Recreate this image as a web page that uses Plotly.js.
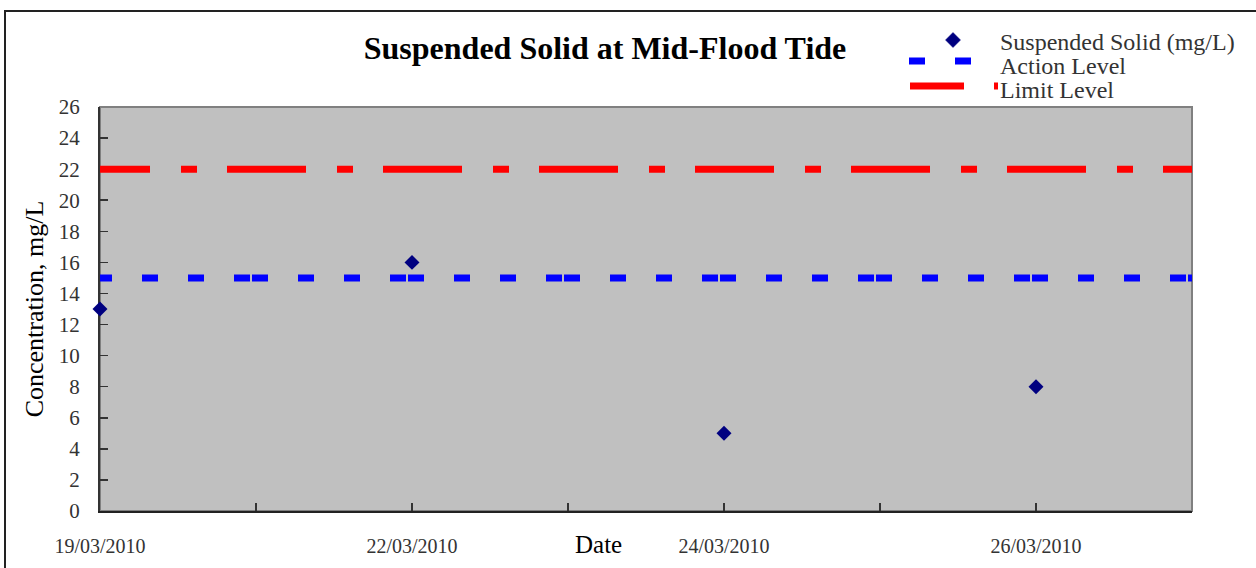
<!DOCTYPE html>
<html>
<head>
<meta charset="utf-8">
<script src="https://cdn.plot.ly/plotly-3.0.1.min.js"></script>
<style>
html,body{margin:0;padding:0;background:#fff;}
#chart{width:1256px;height:568px;}
</style>
</head>
<body>
<div id="chart"></div>
<script>
// ---- data ----
const tickLabels = ["19/03/2010", "22/03/2010", "24/03/2010", "26/03/2010"];
const ssValues = [13, 16, 5, 8];
const actionLevel = 15;
const limitLevel = 22;
const seriesNames = ["Suspended Solid (mg/L)", "Action Level", "Limit Level"];
const chartTitle = "Suspended Solid at Mid-Flood Tide";
const xTitle = "Date";
const yTitle = "Concentration, mg/L";

// ---- axis slots (one labelled slot every second slot, as in the original) ----
const nSlots = tickLabels.length * 2;            // 8 slots, 0..7
const slotVals = Array.from({length: nSlots}, (_, i) => i);
const slotText = slotVals.map(i => (i % 2 === 0 ? tickLabels[i / 2] : ""));
const sampleX = tickLabels.map((_, i) => i * 2);
const xMax = nSlots - 1;

// ---- layout geometry (pixels) ----
const W = 1256, H = 568;
const M = {l: 100, r: 64, t: 107, b: 57};
const pw = W - M.l - M.r, ph = H - M.t - M.b;
const px2x = p => (p - M.l) / pw;
const py2y = p => (H - M.b - p) / ph;

const FONT = "Liberation Serif, Times New Roman, serif";

const traces = [
  {
    x: [0, xMax], y: [limitLevel, limitLevel], mode: "lines", name: seriesNames[2],
    line: {color: "#FF0000", width: 7, dash: "50px,31px,16px,30px,29px,0px"},
    showlegend: false, hoverinfo: "skip"
  },
  {
    x: [0, xMax], y: [actionLevel, actionLevel], mode: "lines", name: seriesNames[1],
    line: {color: "#0000FF", width: 7, dash: "12px,30px,16px,30px,16px,30px,16px,2px,4px,0px"},
    showlegend: false, hoverinfo: "skip"
  },
  {
    x: sampleX, y: ssValues, mode: "markers", name: seriesNames[0],
    marker: {symbol: "diamond", size: 11.5, color: "#000080"},
    cliponaxis: false, showlegend: false
  }
];

// custom legend (symbols + labels), matching the original's compact rows
const legRows = [42, 66, 90];
const legTextX = 998;
const annotations = seriesNames.map((n, i) => ({
  xref: "paper", yref: "paper", x: px2x(legTextX), y: py2y(legRows[i]),
  xanchor: "left", yanchor: "middle", showarrow: false, text: n,
  font: {family: FONT, size: 24, color: "#333"}
}));
annotations.push({
  xref: "paper", yref: "paper", x: px2x(598), y: py2y(544),
  xanchor: "center", yanchor: "middle", showarrow: false, text: xTitle,
  font: {family: FONT, size: 25, color: "#000"}
});

const dcx = 953, dcy = 40, dr = 7.5;
const diamondPath = "M " + px2x(dcx - dr) + "," + py2y(dcy) +
  " L " + px2x(dcx) + "," + py2y(dcy - dr) +
  " L " + px2x(dcx + dr) + "," + py2y(dcy) +
  " L " + px2x(dcx) + "," + py2y(dcy + dr) + " Z";

const shapes = [
  // plot area frame (grey), axis lines drawn over it on left/bottom
  {type: "rect", xref: "paper", yref: "paper", x0: 0, x1: 1, y0: 0, y1: 1,
   line: {color: "#808080", width: 2}, layer: "below"},
  // outer chart frame
  {type: "rect", xref: "paper", yref: "paper",
   x0: px2x(5), x1: px2x(1400), y0: py2y(700), y1: py2y(11),
   line: {color: "#222", width: 2}, layer: "above"},
  // legend symbols
  {type: "path", xref: "paper", yref: "paper", path: diamondPath,
   fillcolor: "#000080", line: {color: "#000080", width: 0.5}},
  {type: "line", xref: "paper", yref: "paper",
   x0: px2x(909), x1: px2x(998), y0: py2y(61), y1: py2y(61),
   line: {color: "#0000FF", width: 7, dash: "16px,30px,16px,30px,16px,30px,16px,2px"}},
  {type: "line", xref: "paper", yref: "paper",
   x0: px2x(910), x1: px2x(998), y0: py2y(86), y1: py2y(86),
   line: {color: "#FF0000", width: 7, dash: "54px,30px,16px,30px,26px,0px"}}
];

const layout = {
  width: W, height: H, autosize: false,
  margin: M,
  paper_bgcolor: "#FFFFFF",
  plot_bgcolor: "#C0C0C0",
  showlegend: false,
  font: {family: FONT, color: "#333"},
  title: {
    text: "<b>" + chartTitle + "</b>",
    x: 605 / W, xanchor: "center", xref: "container",
    y: 1 - 48 / H, yanchor: "middle", yref: "container",
    font: {family: FONT, size: 32, color: "#000"}
  },
  xaxis: {
    range: [0, xMax], tickmode: "array", tickvals: slotVals, ticktext: slotText,
    showgrid: false, zeroline: false, showline: true, linecolor: "#222", linewidth: 2,
    ticks: "inside", ticklen: 8, tickwidth: 1.5, tickcolor: "#333",
    tickfont: {family: FONT, size: 20, color: "#333"},
    ticklabelstandoff: 16, layer: "below traces", fixedrange: true
  },
  yaxis: {
    range: [0, 26], dtick: 2, tick0: 0,
    showgrid: false, zeroline: false, showline: true, linecolor: "#333", linewidth: 2,
    ticks: "inside", ticklen: 8, tickwidth: 1.5, tickcolor: "#333",
    tickfont: {family: FONT, size: 21, color: "#333"},
    ticklabelstandoff: 14, layer: "below traces", fixedrange: true,
    title: {text: yTitle, font: {family: FONT, size: 26, color: "#000"}, standoff: 8}
  },
  shapes: shapes,
  annotations: annotations
};

Plotly.newPlot("chart", traces, layout, {displayModeBar: false, staticPlot: true});
</script>
</body>
</html>
